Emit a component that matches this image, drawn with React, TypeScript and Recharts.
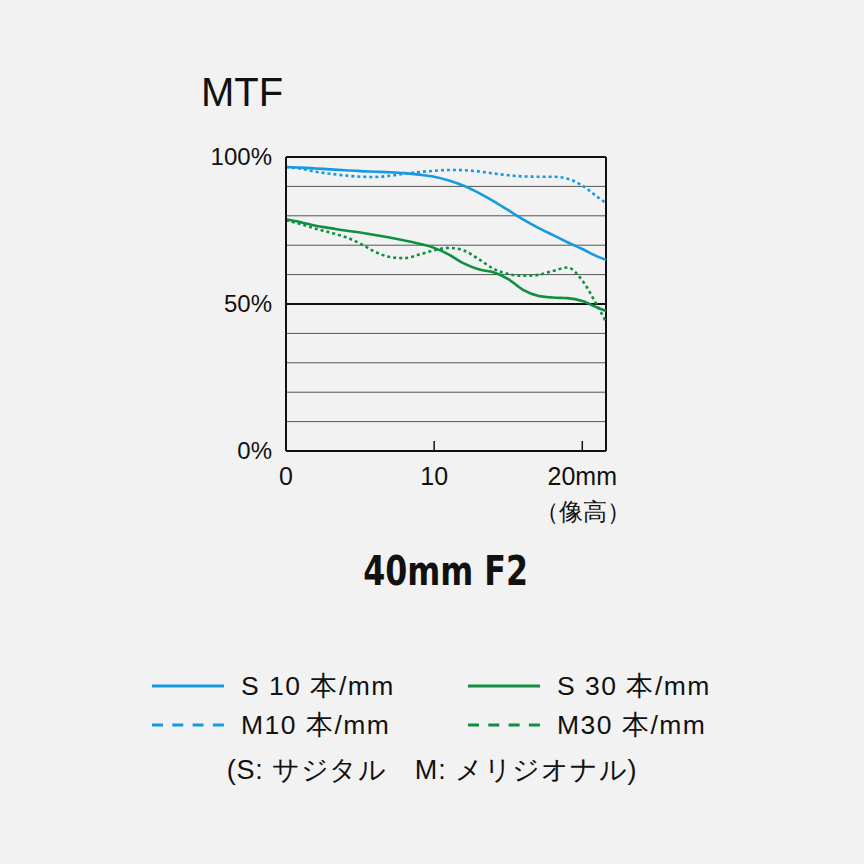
import React from 'react';
import {
    LineChart,
    Line,
    XAxis,
    YAxis,
    CartesianGrid,
    ReferenceLine
} from 'recharts';

// 像高 (mm)
const imageHeight = [0, 1, 2, 3, 4, 5, 6, 7, 8, 9, 10, 11, 12, 13, 14, 15, 16, 17, 18, 19, 20, 21, 21.6];

const s10 = [96.6, 96.4, 96.1, 95.8, 95.5, 95.2, 95.0, 94.8, 94.5, 94.0, 93.3, 92.0, 90.2, 87.8, 85.0, 81.9, 78.8, 76.0, 73.5, 71.0, 68.7, 66.2, 65.0];
const m10 = [96.6, 96.0, 95.0, 94.3, 93.7, 93.3, 93.2, 93.6, 94.3, 94.9, 95.3, 95.6, 95.5, 95.1, 94.4, 93.8, 93.4, 93.3, 93.3, 92.6, 90.3, 86.5, 84.3];
const s30 = [78.8, 77.8, 76.6, 75.8, 75.0, 74.3, 73.5, 72.6, 71.6, 70.5, 69.1, 66.8, 63.8, 61.8, 60.8, 58.5, 54.8, 52.8, 52.2, 52.0, 51.0, 48.8, 47.6];
const m30 = [78.5, 77.2, 75.6, 74.3, 72.8, 70.6, 67.8, 66.0, 65.6, 66.8, 68.3, 69.1, 68.2, 65.3, 62.0, 60.2, 59.6, 59.9, 61.2, 62.4, 58.0, 49.5, 44.0];

const xTicks = [0, 10, 20];
const yTicks = [0, 10, 20, 30, 40, 50, 60, 70, 80, 90, 100];
const yLabels = [0, 50, 100];

const BLUE = '#149ae2';
const GREEN = '#0e9040';
const FONT = '"Liberation Sans", Arial, sans-serif';
const X_MAX = 21.6;

const chartData = imageHeight.map((x, i) => ({
    x,
    s10: s10[i],
    m10: m10[i],
    s30: s30[i],
    m30: m30[i]
}));

const XTick = (props: any) => {
    const { x, y, payload } = props;
    const v = payload.value;
    return (
        <g>
            <text x={x} y={y + 26} textAnchor="middle" fontSize={25} fontFamily={FONT} fill="#111">
                {v === 20 ? '20mm' : String(v)}
            </text>
            {v === 20 && (
                <text x={x + 1} y={y + 61} textAnchor="middle" fontSize={24} fontFamily={FONT} fill="#111">
                    （像高）
                </text>
            )}
        </g>
    );
};

const YTick = (props: any) => {
    const { x, y, payload } = props;
    if (!yLabels.includes(payload.value)) return null;
    return (
        <text x={x - 6} y={y + 8} textAnchor="end" fontSize={24} fontFamily={FONT} fill="#111">
            {payload.value}%
        </text>
    );
};

const LegendItem = ({ color, dashed, label }: { color: string; dashed?: boolean; label: string }) => (
    <div style={{ display: 'flex', alignItems: 'center', height: 39 }}>
        <svg width={72} height={6} style={{ marginRight: 17 }}>
            <line x1={0} y1={3} x2={72} y2={3} stroke={color} strokeWidth={3}
                strokeDasharray={dashed ? '11 9.3' : undefined} />
        </svg>
        <span style={{ fontSize: 26.5, letterSpacing: 1.5, fontFamily: FONT, color: '#111', whiteSpace: 'nowrap' }}>{label}</span>
    </div>
);

export default function App() {
    return (
        <div style={{ position: 'fixed', left: 0, top: 0, width: 864, height: 864, background: '#f2f2f2' }}>
            <div style={{ position: 'absolute', left: 201, top: 69, fontSize: 40, lineHeight: '46px', fontFamily: FONT, color: '#111' }}>
                MTF
            </div>

            <div style={{ position: 'absolute', left: 0, top: 0 }}>
                <LineChart width={864} height={540} data={chartData}
                    margin={{ top: 157, right: 258, left: 226, bottom: 49 }}>
                    <CartesianGrid vertical={false} stroke="#555" strokeWidth={1} horizontalValues={yTicks} />
                    <XAxis dataKey="x" type="number" domain={[0, X_MAX]} ticks={xTicks}
                        height={40} tickLine={false} axisLine={{ stroke: '#111', strokeWidth: 2 }}
                        tick={<XTick />} interval={0} />
                    <YAxis type="number" domain={[0, 100]} ticks={yTicks} width={60}
                        tickLine={false} axisLine={{ stroke: '#111', strokeWidth: 2 }}
                        tick={<YTick />} interval={0} />
                    <ReferenceLine y={50} stroke="#111" strokeWidth={2} />
                    <ReferenceLine y={100} stroke="#111" strokeWidth={2} />
                    <ReferenceLine x={X_MAX} stroke="#111" strokeWidth={2} />
                    {xTicks.filter(t => t > 0).map(t => (
                        <ReferenceLine key={t} segment={[{ x: t, y: 0 }, { x: t, y: 3.4 }]} stroke="#111" strokeWidth={1.5} />
                    ))}
                    <Line type="monotone" dataKey="m10" stroke={BLUE} strokeWidth={2.6} strokeDasharray="3 3" dot={false} isAnimationActive={false} />
                    <Line type="monotone" dataKey="s10" stroke={BLUE} strokeWidth={2.6} dot={false} isAnimationActive={false} />
                    <Line type="monotone" dataKey="m30" stroke={GREEN} strokeWidth={2.6} strokeDasharray="3 3" dot={false} isAnimationActive={false} />
                    <Line type="monotone" dataKey="s30" stroke={GREEN} strokeWidth={2.6} dot={false} isAnimationActive={false} />
                </LineChart>
            </div>

            <div style={{
                position: 'absolute', left: 0, width: 864, top: 548, textAlign: 'center',
                fontFamily: '"DejaVu Sans Condensed", "DejaVu Sans", sans-serif', fontWeight: 'bold',
                fontSize: 40, color: '#111'
            }}>
                <span style={{ display: 'inline-block', transform: 'scaleX(0.88)', marginLeft: 28 }}>40mm F2</span>
            </div>

            <div style={{ position: 'absolute', left: 152, top: 666 }}>
                <LegendItem color={BLUE} label="S 10 本/mm" />
                <LegendItem color={BLUE} dashed label="M10 本/mm" />
            </div>
            <div style={{ position: 'absolute', left: 468, top: 666 }}>
                <LegendItem color={GREEN} label="S 30 本/mm" />
                <LegendItem color={GREEN} dashed label="M30 本/mm" />
            </div>
            <div style={{
                position: 'absolute', left: 0, width: 864, top: 752, textAlign: 'center',
                fontSize: 27, letterSpacing: 0.8, fontFamily: FONT, color: '#111', whiteSpace: 'nowrap'
            }}>
                <span>(S: サジタル　M: メリジオナル)</span>
            </div>
        </div>
    );
}
